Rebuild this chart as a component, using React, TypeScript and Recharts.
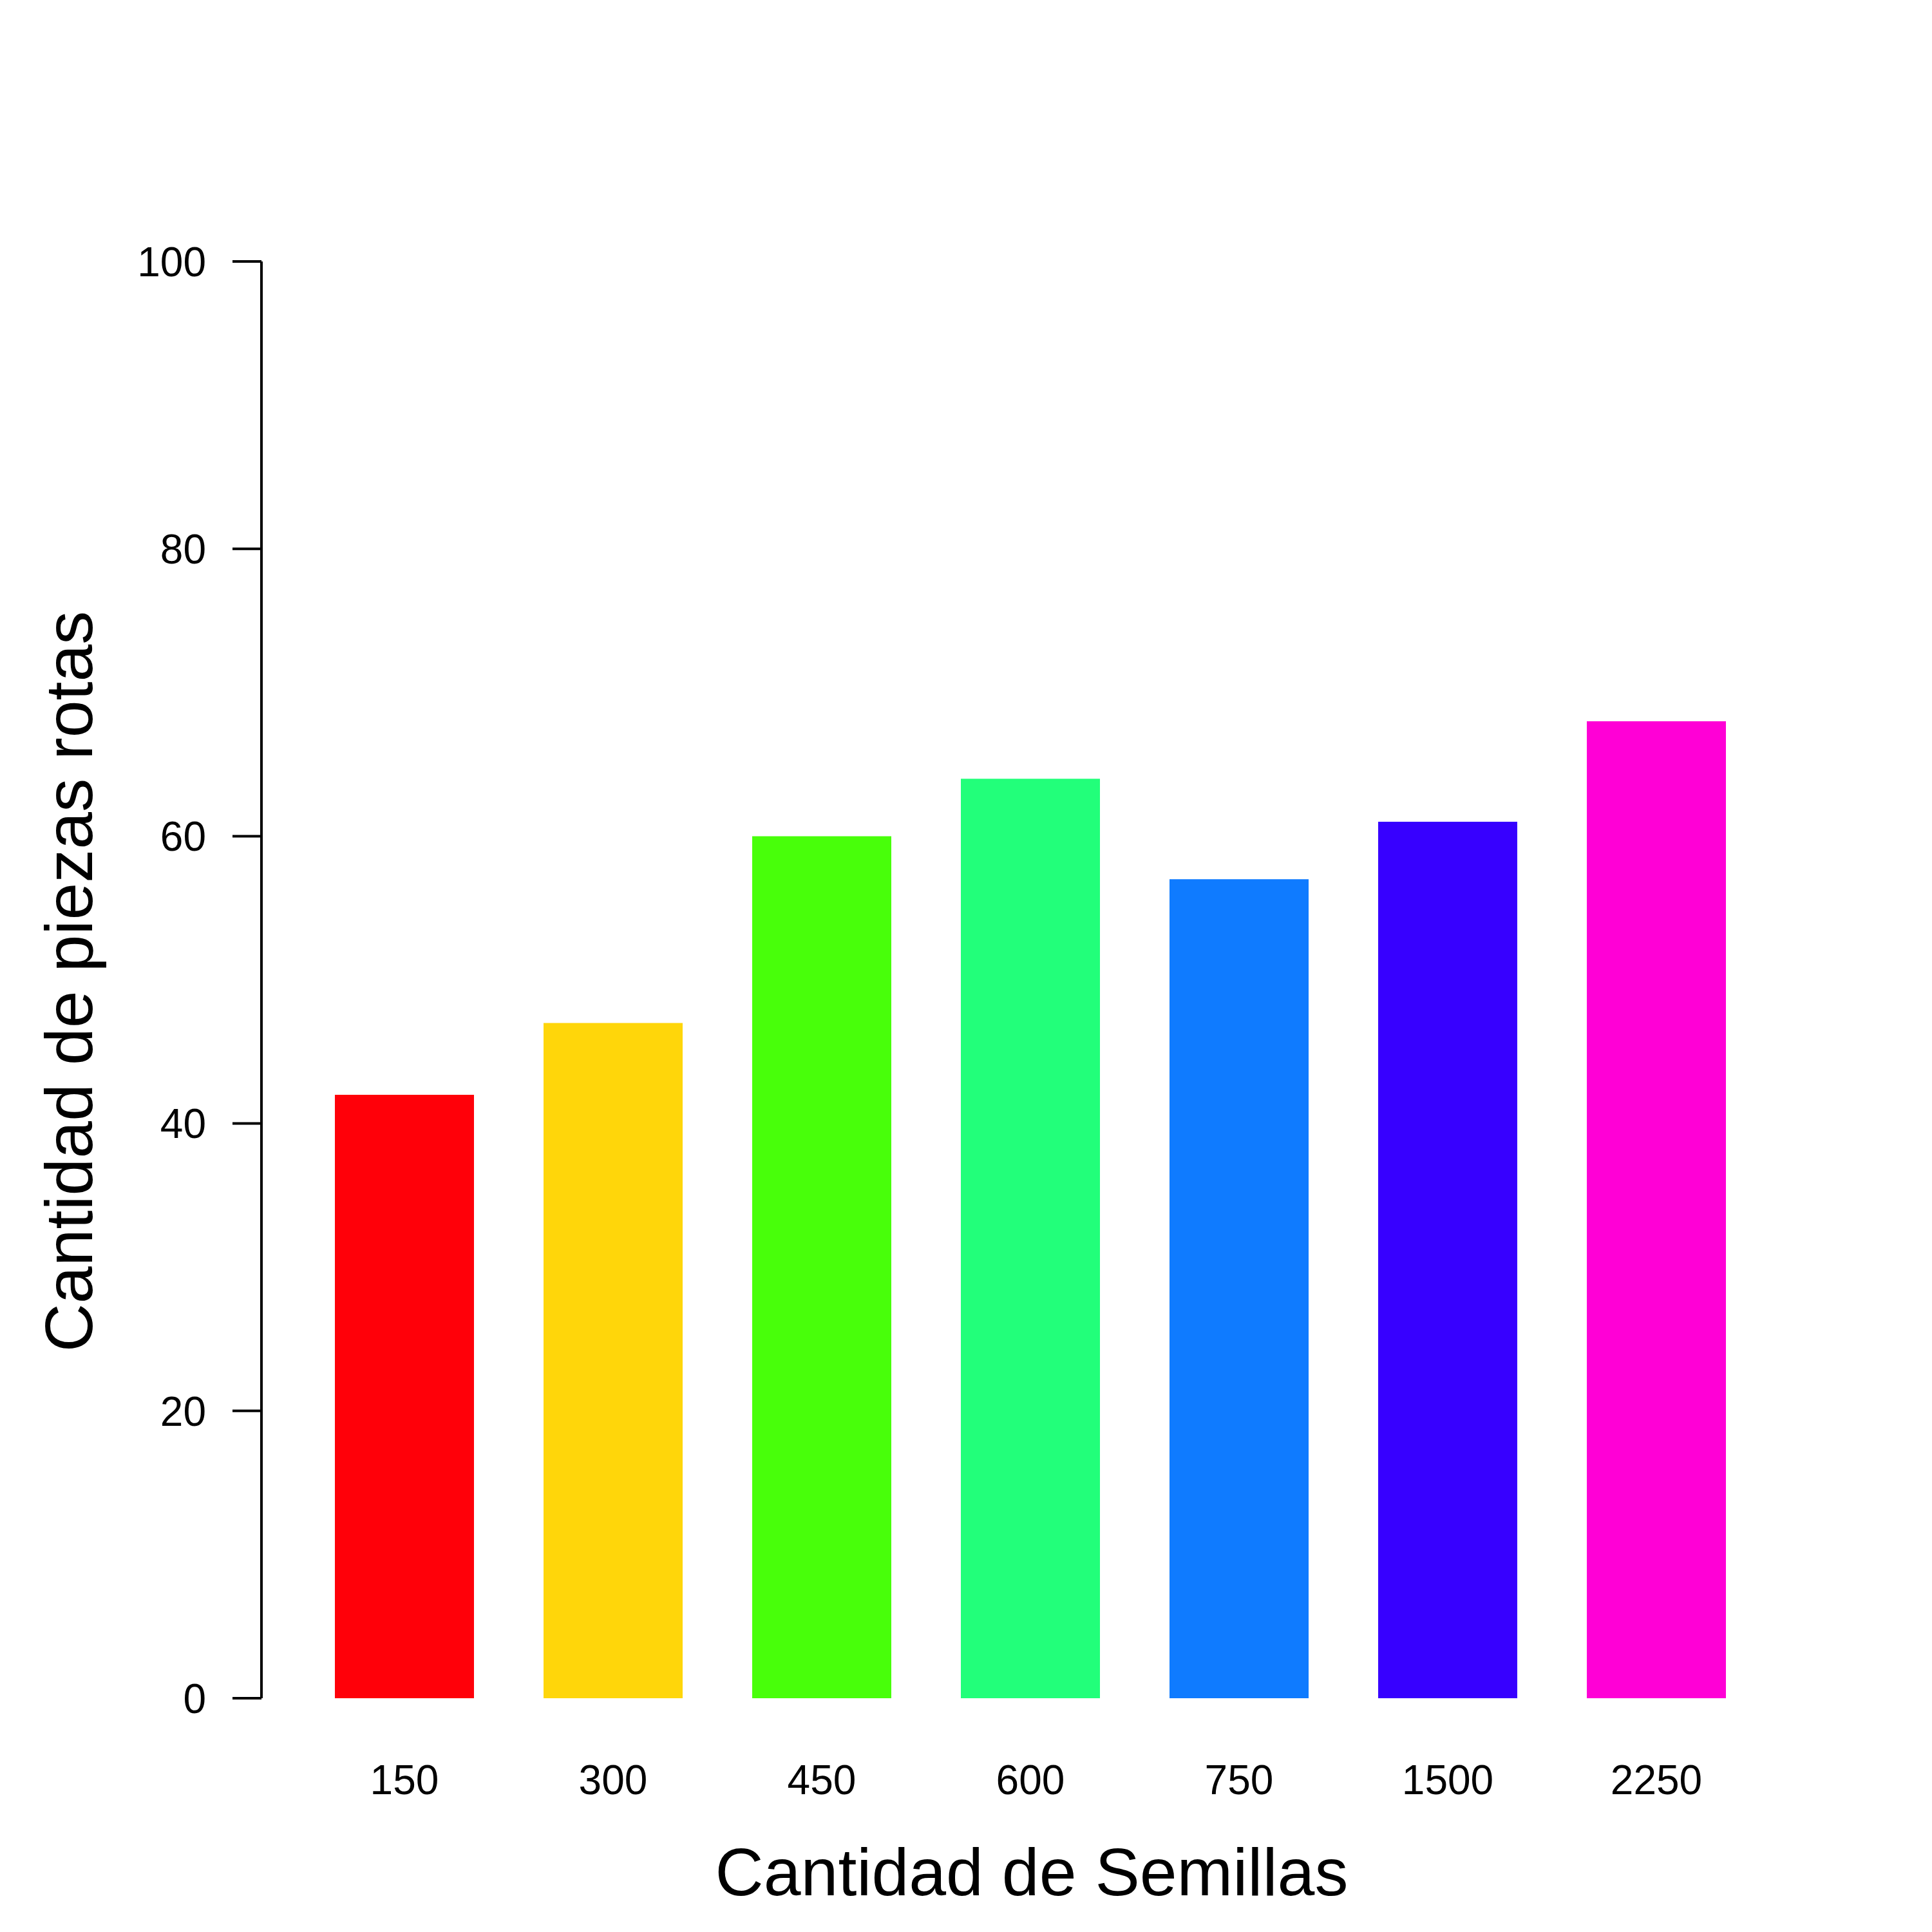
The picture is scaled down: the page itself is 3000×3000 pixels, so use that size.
import React from 'react';
import { BarChart, Bar, XAxis, YAxis, Cell } from 'recharts';

const semillas = ['150', '300', '450', '600', '750', '1500', '2250'];
const piezasRotas = [42, 47, 60, 64, 57, 61, 68];
const colores = ['#FF0009', '#FFD60A', '#48FF0A', '#22FF7A', '#0F7BFF', '#3700FF', '#FF00D6'];
const yTicks = [0, 20, 40, 60, 80, 100];

const data = semillas.map((s, i) => ({ name: s, value: piezasRotas[i] }));

const font = '"Liberation Sans", Arial, sans-serif';

const App: React.FC = () => {
  return (
    <div style={{ position: 'relative', width: 3000, height: 3000, margin: -8, background: '#fff', fontFamily: font }}>
      <BarChart
        width={3000}
        height={3000}
        data={data}
        margin={{ top: 406, right: 266, bottom: 0, left: 0 }}
        barCategoryGap={54}
      >
        <XAxis
          dataKey="name"
          axisLine={false}
          tickLine={false}
          tickSize={0}
          tickMargin={104}
          height={363}
          padding={{ left: 60, right: 0 }}
          tick={{ fill: '#000', fontSize: 64, fontFamily: font }}
          interval={0}
        />
        <YAxis
          domain={[0, 100]}
          ticks={yTicks}
          width={406}
          tickSize={45}
          tickMargin={41}
          stroke="#000"
          strokeWidth={4}
          tick={{ fill: '#000', fontSize: 64, fontFamily: font }}
        />
        <Bar dataKey="value" isAnimationActive={false}>
          {data.map((d, i) => (
            <Cell key={`cell-${i}`} fill={colores[i]} />
          ))}
        </Bar>
      </BarChart>
      <div style={{ position: 'absolute', left: 0, width: 3204, top: 2845, textAlign: 'center', fontSize: 104, lineHeight: '124px' }}>
        Cantidad de Semillas
      </div>
      <div style={{ position: 'absolute', left: 107, top: 1524, transform: 'translate(-50%, -50%) rotate(-90deg)', whiteSpace: 'nowrap', fontSize: 104, lineHeight: '124px' }}>
        Cantidad de piezas rotas
      </div>
    </div>
  );
};

export default App;
